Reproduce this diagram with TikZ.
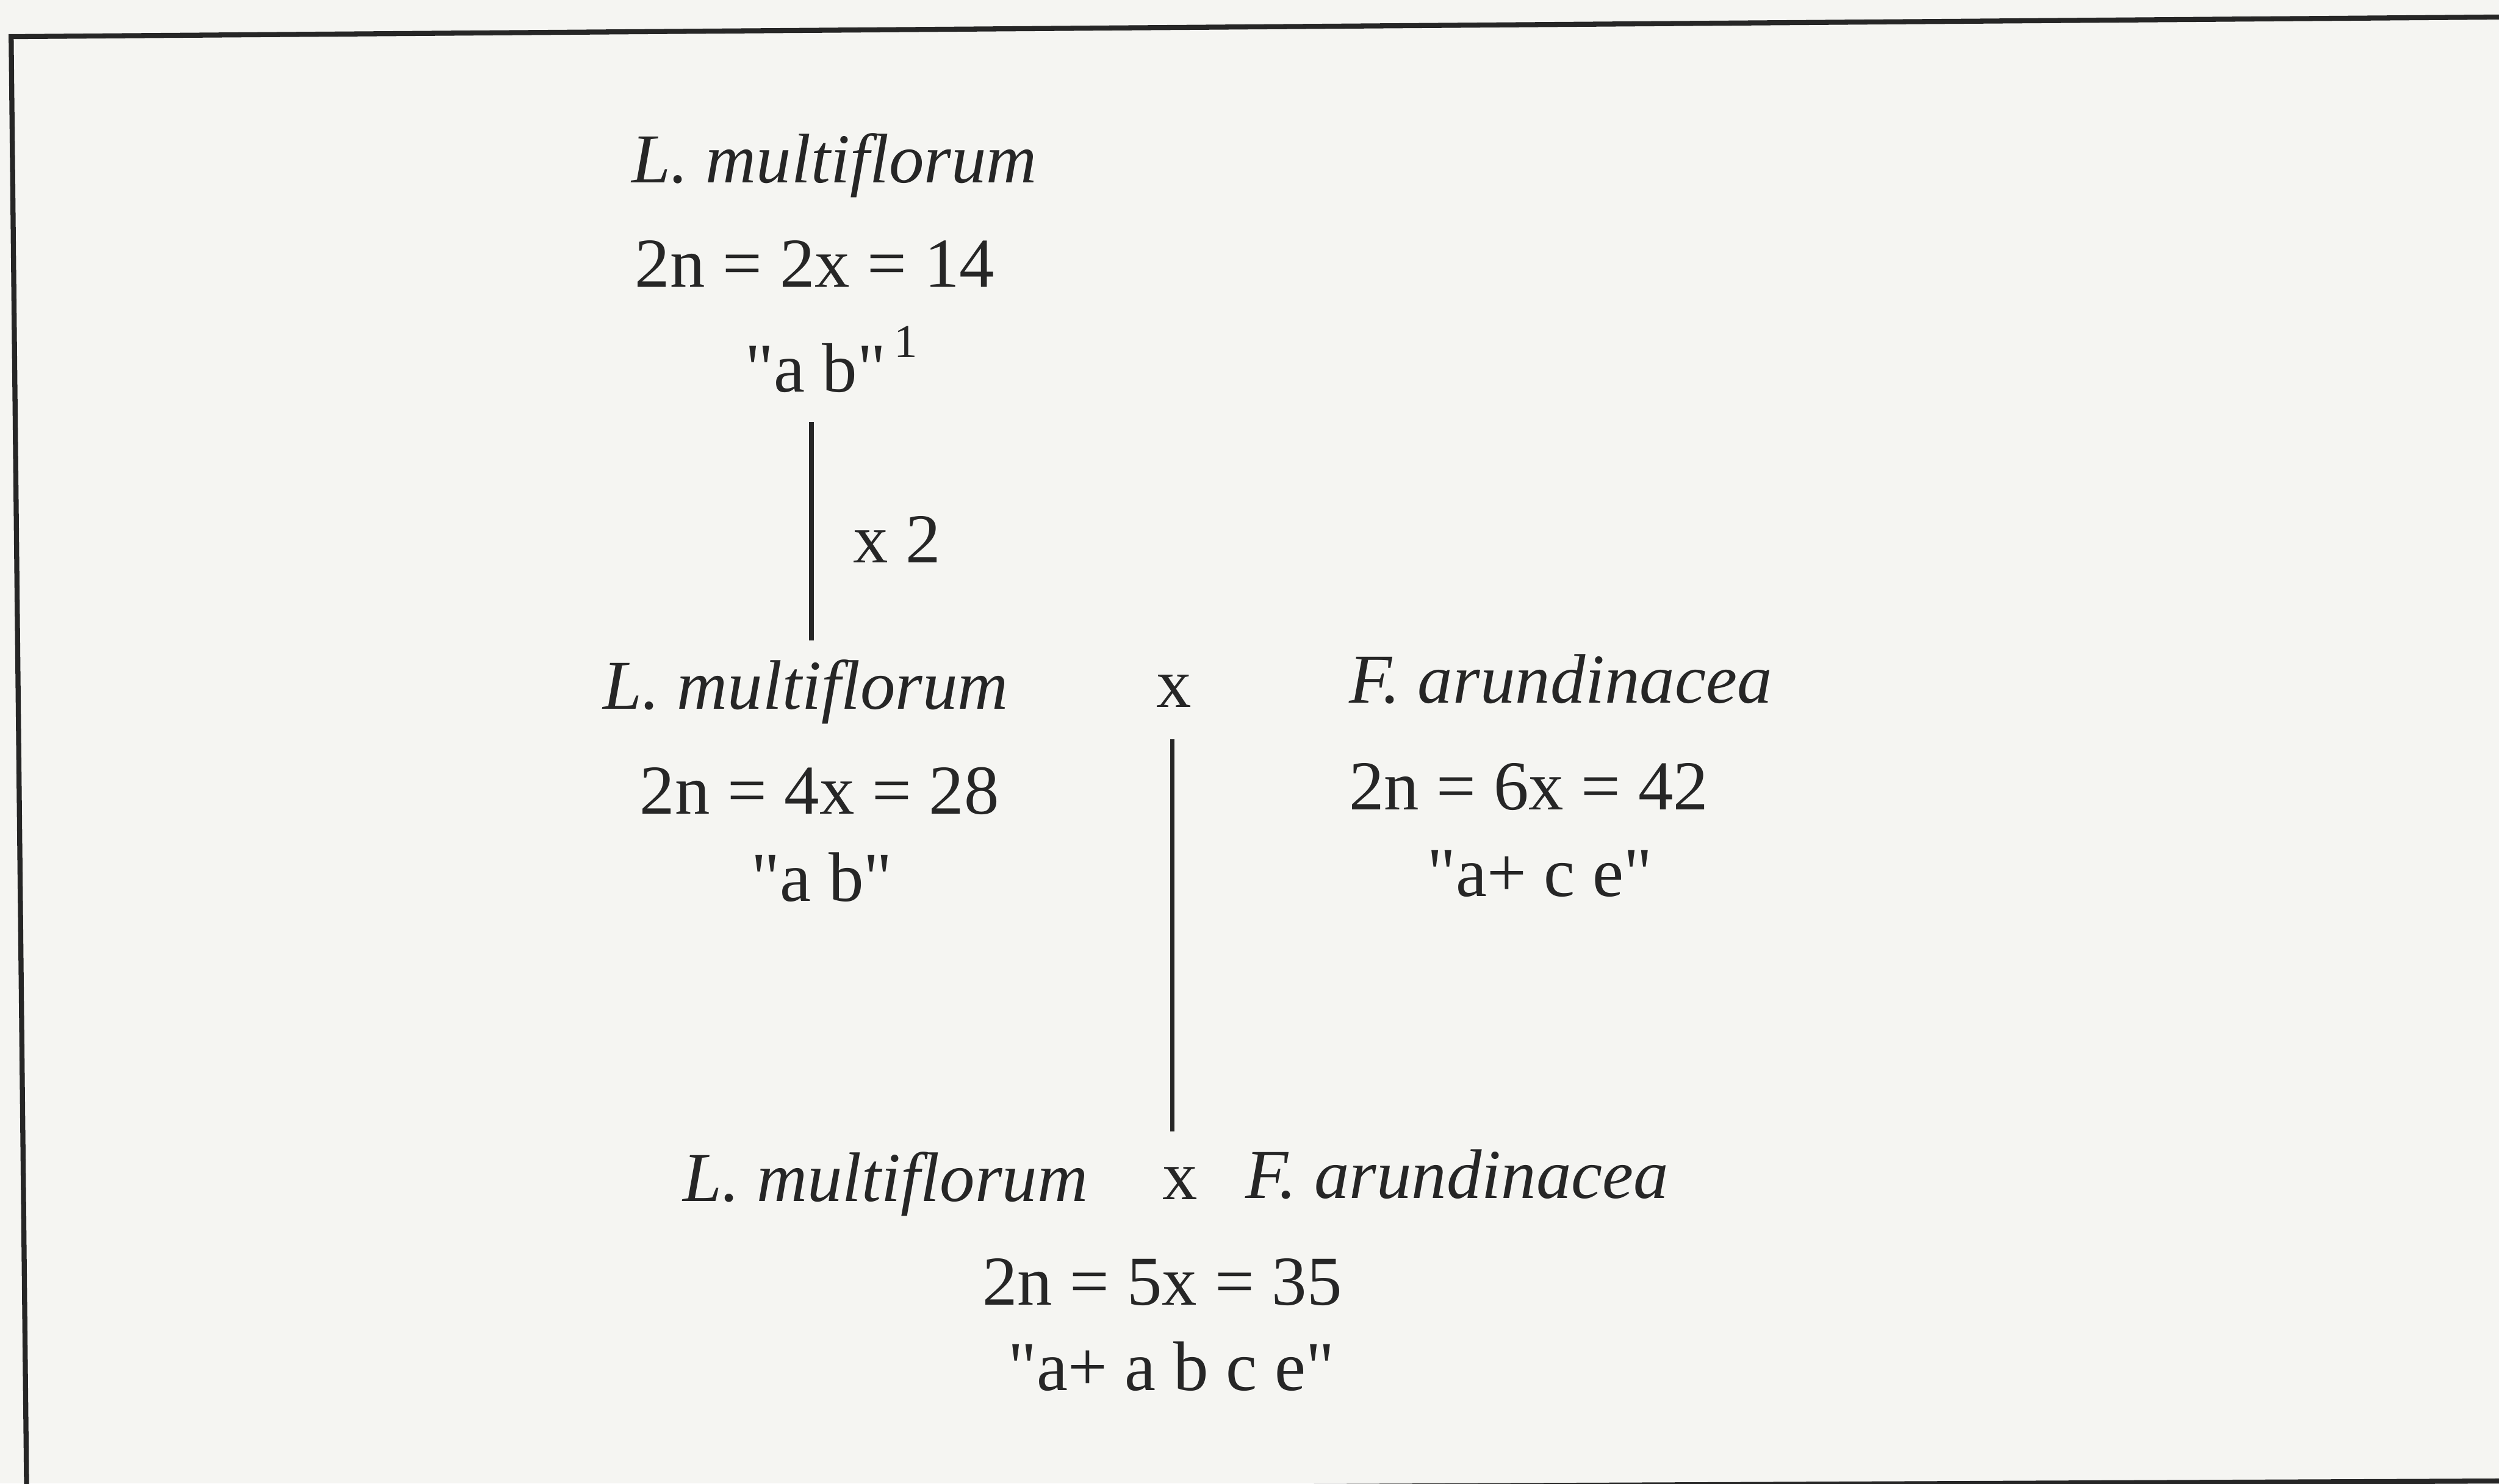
\documentclass[tikz,border=0pt]{standalone}
\usepackage{fontspec}
\setmainfont{Liberation Serif}[Ligatures=TeXOff]
\definecolor{paper}{RGB}{245,245,242}
\definecolor{ink}{RGB}{38,38,38}
\tikzset{
  lbl/.style={anchor=base west,inner sep=0pt,text=ink,font=\fontsize{19.4}{23}\selectfont},
  species/.style={lbl,font=\fontsize{19.4}{23}\selectfont\itshape},
  stem/.style={draw=ink,line width=1.3pt},
  frame/.style={draw=ink,line width=1.4pt}
}
\begin{document}
\begin{tikzpicture}[x=0.0155cm,y=-0.0155cm]
  \fill[paper] (0,0) rectangle (1568,931);
  \useasboundingbox (0,0) rectangle (1568,931);

  % scanned frame
  \draw[frame] (1568,10.7) -- (7,23) -- (16.7,935);
  \draw[frame] (600,934) -- (1568,929.5);

  % diploid parent
  \node[species] (lm1) at (396,114.5) {L. multiflorum};
  \node[lbl] (chr1) at (398,180) {2n = 2x = 14};
  \node[lbl] (gen1) at (467,246) {"a b"\hspace{0.12em}\raisebox{0.5em}{\fontsize{13}{15}\selectfont 1}};

  \coordinate (dbltop) at (509,265);
  \coordinate (dblbot) at (509,402);
  \draw[stem] (dbltop) -- (dblbot);
  \node[lbl] (dbl) at (535,353) {x 2};

  % cross of the parents
  \node[species] (lm2) at (378,445) {L. multiflorum};
  \node[lbl] (cross1) at (725,444) {x};
  \node[species] (fa1) at (846,441) {F. arundinacea};
  \node[lbl] (chr2) at (401,511) {2n = 4x = 28};
  \node[lbl] (chr3) at (846,508) {2n = 6x = 42};
  \node[lbl] (gen2) at (471,565.5) {"a b"};
  \node[lbl] (gen3) at (895,562.6) {"a+ c e"};

  \coordinate (crstop) at (735.6,464);
  \coordinate (crsbot) at (735.6,710);
  \draw[stem] (crstop) -- (crsbot);

  % hybrid
  \node[species] (lm3) at (428,754) {L. multiflorum};
  \node[lbl] (cross2) at (729,752.6) {x};
  \node[species] (fa2) at (781,752) {F. arundinacea};
  \node[lbl] (chr4) at (616,819) {2n = 5x = 35};
  \node[lbl] (gen4) at (632,872.5) {"a+ a b c e"};
\end{tikzpicture}
\end{document}
